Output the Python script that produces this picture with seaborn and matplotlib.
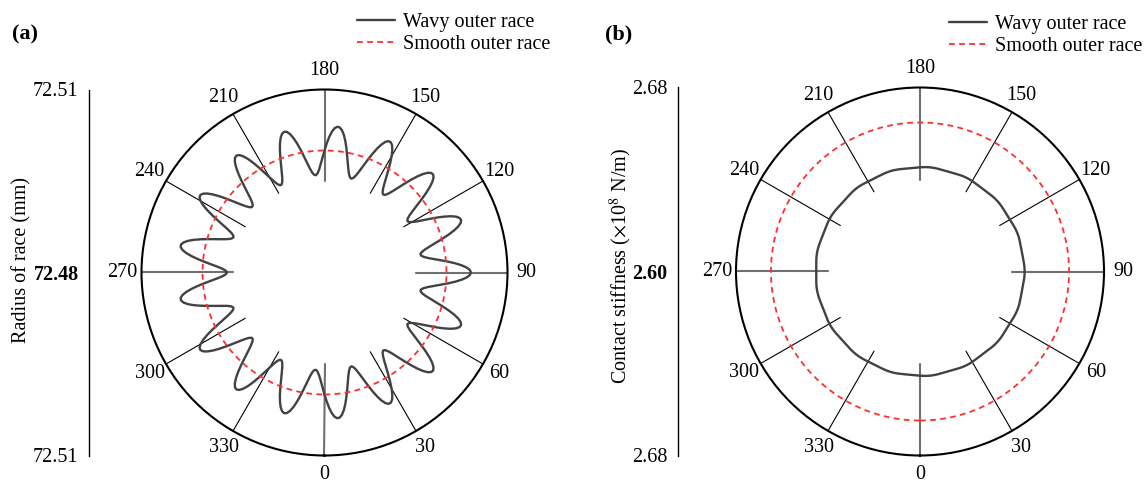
import numpy as np
import matplotlib
matplotlib.use("Agg")
import matplotlib.pyplot as plt
from matplotlib.lines import Line2D
import seaborn as sns

# ---------------------------------------------------------------- data
# sample angles around the race (deg): 1-degree step for the race profile
radius_angle_deg = np.arange(0, 361, 1)
# 2-degree step for the stiffness trace
stiffness_angle_deg = np.arange(0, 362, 2)

# radial deviation of the wavy outer race from its nominal radius (um), 0..360 deg
wavy_radius_dev_um = [
    0.00, 1.17, 2.24, 3.11, 3.71, 3.98, 3.91, 3.50, 2.78, 1.82,
    0.69, -0.49, -1.63, -2.62, -3.39, -3.86, -4.00, -3.78, -3.24, -2.41,
    -1.37, -0.21, 0.97, 2.06, 2.97, 3.63, 3.96, 3.95, 3.60, 2.93,
    2.00, 0.90, -0.28, -1.43, -2.46, -3.28, -3.80, -4.00, -3.85, -3.35,
    -2.57, -1.56, -0.42, 0.76, 1.88, 2.83, 3.53, 3.93, 3.98, 3.68,
    3.06, 2.18, 1.10, -0.07, -1.24, -2.29, -3.15, -3.73, -3.99, -3.90,
    -3.46, -2.73, -1.75, -0.63, 0.56, 1.69, 2.68, 3.43, 3.88, 3.99,
    3.76, 3.19, 2.35, 1.30, 0.14, -1.04, -2.12, -3.02, -3.65, -3.97,
    -3.94, -3.56, -2.88, -1.94, -0.83, 0.35, 1.50, 2.52, 3.32, 3.83,
    4.00, 3.83, 3.32, 2.52, 1.50, 0.35, -0.83, -1.94, -2.88, -3.56,
    -3.94, -3.97, -3.65, -3.02, -2.12, -1.04, 0.14, 1.30, 2.35, 3.19,
    3.76, 3.99, 3.88, 3.43, 2.68, 1.69, 0.56, -0.63, -1.75, -2.73,
    -3.46, -3.90, -3.99, -3.73, -3.15, -2.29, -1.24, -0.07, 1.10, 2.18,
    3.06, 3.68, 3.98, 3.93, 3.53, 2.83, 1.88, 0.76, -0.42, -1.56,
    -2.57, -3.35, -3.85, -4.00, -3.80, -3.28, -2.46, -1.43, -0.28, 0.90,
    2.00, 2.93, 3.60, 3.95, 3.96, 3.63, 2.97, 2.06, 0.97, -0.21,
    -1.37, -2.41, -3.24, -3.78, -4.00, -3.86, -3.39, -2.62, -1.63, -0.49,
    0.69, 1.82, 2.78, 3.50, 3.91, 3.98, 3.71, 3.11, 2.24, 1.17,
    0.00, -1.17, -2.24, -3.11, -3.71, -3.98, -3.91, -3.50, -2.78, -1.82,
    -0.69, 0.49, 1.63, 2.62, 3.39, 3.86, 4.00, 3.78, 3.24, 2.41,
    1.37, 0.21, -0.97, -2.06, -2.97, -3.63, -3.96, -3.95, -3.60, -2.93,
    -2.00, -0.90, 0.28, 1.43, 2.46, 3.28, 3.80, 4.00, 3.85, 3.35,
    2.57, 1.56, 0.42, -0.76, -1.88, -2.83, -3.53, -3.93, -3.98, -3.68,
    -3.06, -2.18, -1.10, 0.07, 1.24, 2.29, 3.15, 3.73, 3.99, 3.90,
    3.46, 2.73, 1.75, 0.63, -0.56, -1.69, -2.68, -3.43, -3.88, -3.99,
    -3.76, -3.19, -2.35, -1.30, -0.14, 1.04, 2.12, 3.02, 3.65, 3.97,
    3.94, 3.56, 2.88, 1.94, 0.83, -0.35, -1.50, -2.52, -3.32, -3.83,
    -4.00, -3.83, -3.32, -2.52, -1.50, -0.35, 0.83, 1.94, 2.88, 3.56,
    3.94, 3.97, 3.65, 3.02, 2.12, 1.04, -0.14, -1.30, -2.35, -3.19,
    -3.76, -3.99, -3.88, -3.43, -2.68, -1.69, -0.56, 0.63, 1.75, 2.73,
    3.46, 3.90, 3.99, 3.73, 3.15, 2.29, 1.24, 0.07, -1.10, -2.18,
    -3.06, -3.68, -3.98, -3.93, -3.53, -2.83, -1.88, -0.76, 0.42, 1.56,
    2.57, 3.35, 3.85, 4.00, 3.80, 3.28, 2.46, 1.43, 0.28, -0.90,
    -2.00, -2.93, -3.60, -3.95, -3.96, -3.63, -2.97, -2.06, -0.97, 0.21,
    1.37, 2.41, 3.24, 3.78, 4.00, 3.86, 3.39, 2.62, 1.63, 0.49,
    -0.69, -1.82, -2.78, -3.50, -3.91, -3.98, -3.71, -3.11, -2.24, -1.17,
    0.00,
]
nominal_radius_mm = 72.50      # smooth outer race radius (mm)

# contact stiffness of the wavy outer race (x1e8 N/m), 0..360 deg
wavy_stiffness = [
    2.64530, 2.64541, 2.64548, 2.64550, 2.64544, 2.64534, 2.64522, 2.64513, 2.64510, 2.64514,
    2.64523, 2.64535, 2.64545, 2.64550, 2.64548, 2.64540, 2.64528, 2.64517, 2.64511, 2.64510,
    2.64517, 2.64528, 2.64540, 2.64548, 2.64550, 2.64546, 2.64536, 2.64524, 2.64514, 2.64510,
    2.64512, 2.64521, 2.64533, 2.64544, 2.64550, 2.64549, 2.64542, 2.64530, 2.64519, 2.64511,
    2.64510, 2.64515, 2.64526, 2.64538, 2.64547, 2.64550, 2.64547, 2.64538, 2.64526, 2.64515,
    2.64510, 2.64511, 2.64519, 2.64530, 2.64542, 2.64549, 2.64550, 2.64544, 2.64533, 2.64521,
    2.64512, 2.64510, 2.64514, 2.64524, 2.64536, 2.64546, 2.64550, 2.64548, 2.64540, 2.64528,
    2.64517, 2.64510, 2.64511, 2.64517, 2.64528, 2.64540, 2.64548, 2.64550, 2.64545, 2.64535,
    2.64523, 2.64514, 2.64510, 2.64513, 2.64522, 2.64534, 2.64544, 2.64550, 2.64548, 2.64541,
    2.64530, 2.64519, 2.64512, 2.64510, 2.64516, 2.64526, 2.64538, 2.64547, 2.64550, 2.64546,
    2.64537, 2.64525, 2.64515, 2.64510, 2.64512, 2.64520, 2.64532, 2.64543, 2.64549, 2.64550,
    2.64543, 2.64532, 2.64520, 2.64512, 2.64510, 2.64514, 2.64524, 2.64536, 2.64546, 2.64550,
    2.64548, 2.64539, 2.64527, 2.64516, 2.64510, 2.64511, 2.64518, 2.64530, 2.64541, 2.64549,
    2.64550, 2.64545, 2.64534, 2.64522, 2.64513, 2.64510, 2.64513, 2.64522, 2.64534, 2.64545,
    2.64550, 2.64549, 2.64541, 2.64530, 2.64518, 2.64511, 2.64510, 2.64516, 2.64527, 2.64539,
    2.64548, 2.64550, 2.64546, 2.64536, 2.64524, 2.64514, 2.64510, 2.64512, 2.64520, 2.64532,
    2.64543, 2.64550, 2.64549, 2.64543, 2.64532, 2.64520, 2.64512, 2.64510, 2.64515, 2.64525,
    2.64537, 2.64546, 2.64550, 2.64547, 2.64538, 2.64526, 2.64516, 2.64510, 2.64512, 2.64519,
    2.64530,
]
smooth_stiffness = 2.6648      # smooth outer race (x1e8 N/m)

series_names = ["Wavy outer race", "Smooth outer race"]
angle_ticks = [0, 30, 60, 90, 120, 150, 180, 210, 240, 270, 300, 330]
radius_range = (72.48, 72.51)
stiffness_range = (2.60, 2.68)

# ---------------------------------------------------------------- style
sns.set_style("white")
plt.rcParams.update({
    "font.family": ["Liberation Serif", "DejaVu Serif"],
    "mathtext.fontset": "stix",
    "text.color": "black",
    "axes.labelcolor": "black",
    "xtick.color": "black",
    "ytick.color": "black",
})

W, H = 1148, 482
fig = plt.figure(figsize=(W / 100, H / 100), dpi=100)

WAVY_COLOR = "#424242"
SMOOTH_COLOR = "#ff2e2e"
SMOOTH_DASH = (0, (3.2, 2.4))
FS = 14.5


def draw_panel(cx, cy, rad, axis_x, rlim, angles, wavy, smooth, ylabel, ylabel_xy,
               tag, tag_x, legend_xy):
    # polar plot area
    ax = fig.add_axes([(cx - rad) / W, (H - cy - rad) / H, 2 * rad / W, 2 * rad / H],
                      projection="polar")
    ax.set_theta_zero_location("S")
    ax.set_theta_direction(1)

    sns.lineplot(x=np.deg2rad(angles), y=np.asarray(wavy), color=WAVY_COLOR, lw=1.7,
                 sort=False, estimator=None, ax=ax, zorder=3)
    sns.lineplot(x=np.deg2rad(radius_angle_deg),
                 y=np.full(len(radius_angle_deg), smooth), color=SMOOTH_COLOR,
                 lw=1.3, linestyle=SMOOTH_DASH, sort=False, estimator=None,
                 ax=ax, zorder=3)
    ax.set_xlabel("")
    ax.set_ylabel("")

    ax.set_yticks([])
    ax.grid(False)
    ax.spines["polar"].set_linewidth(1.5)
    ax.spines["polar"].set_color("black")

    ax.set_xticks(np.deg2rad(angle_ticks))
    ax.set_xticklabels([str(a) for a in angle_ticks])
    ax.set_xticks(np.deg2rad(np.array(angle_ticks) + 15), minor=True)
    ax.tick_params(axis="x", which="major", direction="in", length=7, width=1.4,
                   pad=6.6, labelsize=FS)
    ax.tick_params(axis="x", which="minor", direction="in", length=5, width=1.1)

    # spokes from half radius out to the rim
    r_in = rlim[0] + 0.5 * (rlim[1] - rlim[0])
    for a in angle_ticks:
        cardinal = a % 90 == 0
        ax.plot([np.deg2rad(a)] * 2, [r_in, rlim[1]],
                color="#707070" if cardinal else "black",
                lw=1.5 if cardinal else 0.8, zorder=1.5)
    ax.set_ylim(*rlim)

    # vertical radial scale at the left
    span = rlim[1] - rlim[0]
    lax = fig.add_axes([axis_x / W, (H - cy - rad) / H, 0.0005, 2 * rad / H])
    lax.patch.set_alpha(0)
    lax.set_ylim(-span, span)
    lax.set_xticks([])
    for s in ("top", "right", "bottom"):
        lax.spines[s].set_visible(False)
    lax.spines["left"].set_linewidth(1.0)
    lax.spines["left"].set_color("black")
    tick_vals = [-span, 0.0, span]
    lax.set_yticks(tick_vals, labels=[f"{rlim[0] + abs(v):.2f}" for v in tick_vals])
    lax.set_yticks([-span / 2, span / 2], minor=True)
    lax.tick_params(axis="y", which="major", direction="out", length=7, width=1.0,
                    labelsize=FS, pad=0.5)
    lax.tick_params(axis="y", which="minor", direction="out", length=4, width=1.0)
    lax.get_yticklabels()[1].set_fontweight("bold")
    lax.set_ylabel(ylabel, fontsize=FS, va="center")
    lax.yaxis.set_label_coords(ylabel_xy[0] / W, 1 - ylabel_xy[1] / H,
                               transform=fig.transFigure)

    fig.text(tag_x / W, 1 - 34 / H, tag, fontsize=16, fontweight="bold",
             ha="left", va="center")

    handles = [Line2D([], [], color=WAVY_COLOR, lw=1.7),
               Line2D([], [], color=SMOOTH_COLOR, lw=1.3, linestyle=SMOOTH_DASH)]
    fig.legend(handles, series_names, loc="upper left",
               bbox_to_anchor=(legend_xy[0] / W, 1 - legend_xy[1] / H),
               bbox_transform=fig.transFigure, frameon=False, fontsize=FS,
               handlelength=1.9, handletextpad=0.4, labelspacing=0.15,
               borderpad=0, borderaxespad=0)
    return ax


draw_panel(324.5, 272.5, 183, 89,
           radius_range, radius_angle_deg,
           nominal_radius_mm + np.asarray(wavy_radius_dev_um) / 1000.0,
           nominal_radius_mm,
           "Radius of race (mm)", (22, 260), "(a)", 12, (357, 13))

draw_panel(920, 271.5, 184, 678,
           stiffness_range, stiffness_angle_deg,
           wavy_stiffness,
           smooth_stiffness,
           r"Contact stiffness ($\times$10$^{8}$ N/m)", (621, 266), "(b)", 605, (949, 15))

fig.savefig("out.png", dpi=100, facecolor="white")
